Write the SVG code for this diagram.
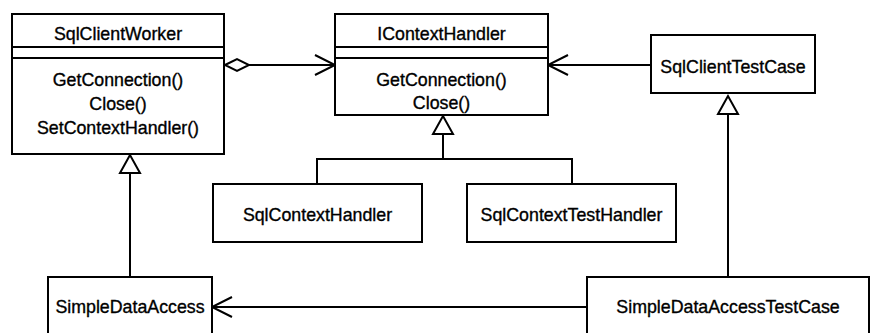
<svg xmlns="http://www.w3.org/2000/svg" width="872" height="333" viewBox="0 0 872 333">
  <style>
    .box { fill: #ffffff; stroke: #000000; stroke-width: 2; }
    .sep { stroke: #000000; stroke-width: 2; }
    .edge { fill: none; stroke: #000000; stroke-width: 2; }
    .hollow { fill: #ffffff; stroke: #000000; stroke-width: 2; stroke-linejoin: miter; }
    text { font-family: "Liberation Sans", Arial, sans-serif; font-size: 17.8px; fill: #000000; stroke: #000000; stroke-width: 0.35; text-anchor: middle; }
  </style>
  <rect width="872" height="333" fill="#ffffff"/>

  <!-- connectors -->
  <g id="connectors">
    <!-- aggregation SqlClientWorker -> IContextHandler -->
    <line class="edge" x1="249" y1="65" x2="335" y2="65"/>
    <polyline class="edge" points="315,55 335,65 315,75"/>
    <polygon class="hollow" points="225,65 237,59 249,65 237,71"/>
    <!-- SqlClientTestCase -> IContextHandler -->
    <line class="edge" x1="651" y1="65" x2="548" y2="65"/>
    <polyline class="edge" points="568,55 548,65 568,75"/>
    <!-- realizations of IContextHandler -->
    <polyline class="edge" points="317,184 317,159 572,159 572,184"/>
    <line class="edge" x1="443" y1="159" x2="443" y2="134"/>
    <polygon class="hollow" points="443,116 433,134 453,134"/>
    <!-- SimpleDataAccess -> SqlClientWorker -->
    <line class="edge" x1="130" y1="277" x2="130" y2="173"/>
    <polygon class="hollow" points="130,155 120,173 140,173"/>
    <!-- SimpleDataAccessTestCase -> SqlClientTestCase -->
    <line class="edge" x1="728" y1="277" x2="728" y2="114"/>
    <polygon class="hollow" points="728,96 718,114 738,114"/>
    <!-- SimpleDataAccessTestCase -> SimpleDataAccess -->
    <line class="edge" x1="587" y1="307" x2="212" y2="307"/>
    <polyline class="edge" points="232,297 212,307 232,317"/>
  </g>

  <g id="SqlClientWorker">
    <rect class="box" x="12" y="14" width="212" height="140"/>
    <line class="sep" x1="12" y1="47" x2="224" y2="47"/>
    <line class="sep" x1="12" y1="58" x2="224" y2="58"/>
    <text x="118" y="40">SqlClientWorker</text>
    <text x="118" y="86">GetConnection()</text>
    <text x="118" y="110">Close()</text>
    <text x="118" y="134">SetContextHandler()</text>
  </g>

  <g id="IContextHandler">
    <rect class="box" x="335" y="14" width="213" height="101"/>
    <line class="sep" x1="335" y1="47" x2="548" y2="47"/>
    <line class="sep" x1="335" y1="58" x2="548" y2="58"/>
    <text x="441.5" y="40">IContextHandler</text>
    <text x="441.5" y="86">GetConnection()</text>
    <text x="441.5" y="109">Close()</text>
  </g>

  <g id="SqlClientTestCase">
    <rect class="box" x="651" y="35" width="164" height="58"/>
    <text x="733" y="73">SqlClientTestCase</text>
  </g>

  <g id="SqlContextHandler">
    <rect class="box" x="213" y="184" width="209" height="58"/>
    <text x="317.5" y="221">SqlContextHandler</text>
  </g>

  <g id="SqlContextTestHandler">
    <rect class="box" x="467" y="184" width="209" height="58"/>
    <text x="571.5" y="221">SqlContextTestHandler</text>
  </g>

  <g id="SimpleDataAccess">
    <rect class="box" x="48" y="277" width="164" height="70"/>
    <text x="130" y="313">SimpleDataAccess</text>
  </g>

  <g id="SimpleDataAccessTestCase">
    <rect class="box" x="587" y="277" width="282" height="70"/>
    <text x="728" y="313">SimpleDataAccessTestCase</text>
  </g>
</svg>
